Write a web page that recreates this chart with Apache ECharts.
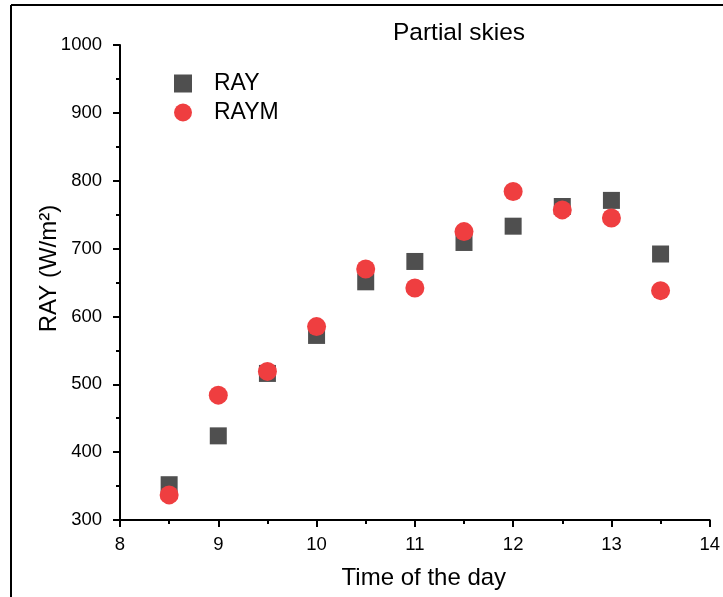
<!DOCTYPE html>
<html>
<head>
<meta charset="utf-8">
<script src="https://cdn.jsdelivr.net/npm/echarts@6/dist/echarts.min.js"></script>
<style>
html,body{margin:0;padding:0;background:#fff;}
#chart{width:723px;height:597px;}
</style>
</head>
<body>
<div id="chart"></div>
<script>
const times = [8.5, 9, 9.5, 10, 10.5, 11, 11.5, 12, 12.5, 13, 13.5];
const rayValues = [352, 424, 516, 572, 651, 681, 709, 733, 762, 771, 692];
const raymValues = [337, 484, 519, 585, 670, 642, 725, 784, 757, 745, 638];

const chart = echarts.init(document.getElementById('chart'));
const font = 'Liberation Sans, Arial, sans-serif';
chart.setOption({
  backgroundColor: '#fff',
  animation: false,
  title: {
    text: 'Partial skies',
    left: 454, top: 16,
    textAlign: 'center',
    textStyle: {fontFamily: font, fontSize: 24.5, fontWeight: 'normal', color: '#000'}
  },
  legend: {
    orient: 'vertical',
    left: 169, top: 67,
    itemWidth: 18, itemHeight: 18, itemGap: 6,
    textStyle: {fontFamily: font, fontSize: 23, color: '#000', padding: [0, 0, 0, 17]},
    data: [{name: 'RAY', icon: 'rect'}, {name: 'RAYM', icon: 'circle'}]
  },
  grid: {left: 120, right: 12, top: 45, bottom: 77},
  xAxis: {
    type: 'value', min: 8, max: 14, interval: 1,
    name: 'Time of the day', nameLocation: 'middle', nameGap: 46,
    nameMoveOverlap: false,
    nameTextStyle: {fontFamily: font, fontSize: 24, color: '#000', padding: [0, 0, 0, 18]},
    axisLine: {lineStyle: {color: '#000', width: 2}},
    axisTick: {show: true, length: 7, lineStyle: {color: '#000', width: 2}},
    minorTick: {show: true, splitNumber: 2, length: 4, lineStyle: {color: '#000', width: 2}},
    axisLabel: {fontFamily: font, fontSize: 18.5, color: '#000', margin: 15},
    splitLine: {show: false}
  },
  yAxis: {
    type: 'value', min: 300, max: 1000, interval: 100,
    name: 'RAY (W/m²)', nameLocation: 'middle', nameGap: 59,
    nameMoveOverlap: false,
    nameTextStyle: {fontFamily: font, fontSize: 24, color: '#000', padding: [0, 0, 0, 28]},
    axisLine: {show: true, lineStyle: {color: '#000', width: 2}},
    axisTick: {show: true, length: 7, lineStyle: {color: '#000', width: 2}},
    minorTick: {show: true, splitNumber: 2, length: 4, lineStyle: {color: '#000', width: 2}},
    axisLabel: {fontFamily: font, fontSize: 18.5, color: '#000', margin: 18, formatter: v => String(v)},
    splitLine: {show: false}
  },
  graphic: [
    {type: 'line', shape: {x1: 11, y1: 5, x2: 723, y2: 5}, style: {stroke: '#000', lineWidth: 2}},
    {type: 'line', shape: {x1: 11, y1: 5, x2: 11, y2: 597}, style: {stroke: '#000', lineWidth: 2}}
  ],
  series: [
    {
      name: 'RAY', type: 'scatter', symbol: 'rect', symbolSize: 17,
      itemStyle: {color: '#4f4f4f', opacity: 1},
      data: times.map((t, i) => [t, rayValues[i]]), z: 2
    },
    {
      name: 'RAYM', type: 'scatter', symbol: 'circle', symbolSize: 19,
      itemStyle: {color: '#ef3e40', opacity: 1},
      data: times.map((t, i) => [t, raymValues[i]]), z: 3
    }
  ]
});
</script>
</body>
</html>
